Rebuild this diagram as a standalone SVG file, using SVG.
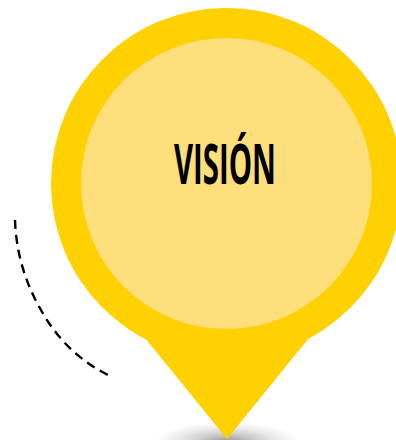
<svg xmlns="http://www.w3.org/2000/svg" width="396" height="440" viewBox="0 0 396 440">
  <style>
    .pin { fill: #ffd100; }
    .inner { fill: #ffdf7c; }
    .dash { fill: none; stroke: #000; stroke-width: 2.4; stroke-dasharray: 9 6; }
    .label { font-family: "Open Sans", "Liberation Sans", sans-serif; font-weight: 700; font-size: 55px; fill: #000; }
  </style>
  <defs>
    <radialGradient id="shadow">
      <stop offset="0" stop-color="#000" stop-opacity="0.4"/>
      <stop offset="0.4" stop-color="#000" stop-opacity="0.2"/>
      <stop offset="0.7" stop-color="#000" stop-opacity="0.08"/>
      <stop offset="1" stop-color="#000" stop-opacity="0"/>
    </radialGradient>
  </defs>
  <rect width="396" height="440" fill="#fff"/>
  <ellipse cx="227" cy="442" rx="72" ry="20" fill="url(#shadow)"/>
  <g id="pin">
    <circle class="pin" cx="226.5" cy="183.5" r="175.5"/>
    <polygon class="pin" points="145,338 227,439 309,338 226,320"/>
    <circle class="inner" cx="226.5" cy="183.5" r="145.5"/>
    <text class="label" x="174" y="184" textLength="102" lengthAdjust="spacingAndGlyphs">VISIÓN</text>
  </g>
  <g id="connectors">
    <path class="dash" d="M15 220C16 250 24 281 41 310C57 339 80 361 108 375"/>
  </g>
</svg>
